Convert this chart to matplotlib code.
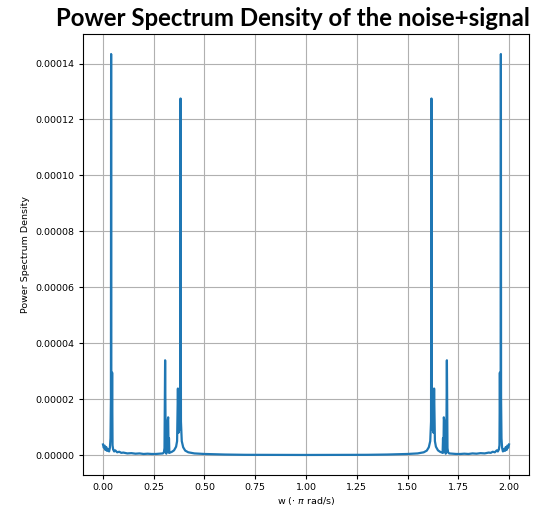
import matplotlib
matplotlib.use("Agg")
import matplotlib.pyplot as plt

# frequency (x pi rad/s) and PSD values, in units of 1e-6
w_left = [
    0.000, 0.004, 0.008, 0.012, 0.016, 0.020, 0.025, 0.030, 0.034, 0.037, 0.039,
    0.040, 0.041, 0.043, 0.045, 0.047, 0.050, 0.055, 0.060, 0.070, 0.080, 0.090,
    0.100, 0.120, 0.140, 0.160, 0.180, 0.200, 0.220, 0.240, 0.260, 0.280, 0.295,
    0.300, 0.303, 0.306, 0.309, 0.312, 0.316, 0.319, 0.321, 0.323, 0.325, 0.327,
    0.330, 0.340, 0.350, 0.360, 0.365, 0.369, 0.372, 0.375, 0.378, 0.380, 0.382,
    0.384, 0.388, 0.395, 0.405, 0.420, 0.450, 0.500, 0.600, 0.700, 0.800, 0.900,
    1.000,
]
psd_left = [
    3.8, 2.6, 3.4, 1.8, 2.9, 1.5, 2.2, 1.3, 2.6, 6.0, 20.0,
    143.4, 12.0, 6.0, 29.5, 3.5, 2.0, 1.3, 1.7, 1.0, 1.2, 0.8,
    0.9, 0.6, 0.7, 0.5, 0.6, 0.4, 0.5, 0.4, 0.4, 0.5, 0.6,
    1.0, 2.5, 33.9, 1.0, 0.5, 3.0, 12.5, 13.5, 1.0, 6.0, 0.8,
    0.9, 1.2, 1.7, 3.0, 5.0, 23.8, 8.0, 14.0, 9.0, 20.0, 127.5,
    12.0, 5.0, 2.8, 1.6, 1.0, 0.6, 0.4, 0.2, 0.1, 0.08, 0.06,
    0.05,
]
w_right = [
    1.100, 1.200, 1.300, 1.400, 1.500, 1.550, 1.580, 1.595, 1.605, 1.612, 1.616,
    1.618, 1.620, 1.622, 1.625, 1.628, 1.631, 1.635, 1.640, 1.650, 1.660, 1.670,
    1.673, 1.675, 1.677, 1.679, 1.681, 1.684, 1.688, 1.691, 1.694, 1.697, 1.700,
    1.705, 1.720, 1.740, 1.760, 1.780, 1.800, 1.820, 1.840, 1.860, 1.880, 1.900,
    1.910, 1.920, 1.930, 1.940, 1.945, 1.950, 1.953, 1.955, 1.957, 1.959, 1.960,
    1.961, 1.963, 1.966, 1.970, 1.975, 1.980, 1.984, 1.988, 1.992, 1.996, 2.000,
]
psd_right = [
    0.06, 0.08, 0.1, 0.2, 0.4, 0.6, 1.0, 1.6, 2.8, 5.0, 12.0,
    127.5, 20.0, 9.0, 14.0, 8.0, 23.8, 5.0, 3.0, 1.7, 1.2, 0.9,
    0.8, 6.0, 1.0, 13.5, 12.5, 3.0, 0.5, 1.0, 33.9, 2.5, 1.0,
    0.6, 0.5, 0.4, 0.4, 0.5, 0.4, 0.6, 0.5, 0.7, 0.6, 0.9,
    0.8, 1.2, 1.0, 1.7, 1.3, 2.0, 3.5, 29.5, 6.0, 12.0, 143.4,
    20.0, 6.0, 2.6, 1.3, 2.2, 1.5, 2.9, 1.8, 3.4, 2.6, 3.8,
]

w = w_left + w_right
psd = [v * 1e-6 for v in psd_left + psd_right]

fig = plt.figure(figsize=(5.55, 5.09), dpi=100)
ax = fig.add_axes([0.149, 0.0668, 0.8047, 0.8664])
ax.plot(w, psd, color="#1f77b4", linewidth=1.6)
ax.grid(True, color="#b0b0b0", linewidth=0.8)
ax.set_xticks([0.0, 0.25, 0.5, 0.75, 1.0, 1.25, 1.5, 1.75, 2.0])
ax.set_yticks([0.0, 0.00002, 0.00004, 0.00006, 0.00008, 0.0001, 0.00012, 0.00014])
ax.set_yticklabels([f"{v:.5f}" for v in ax.get_yticks()])
ax.set_xticklabels([f"{v:.2f}" for v in ax.get_xticks()])
ax.tick_params(labelsize=6.8, length=3, pad=3)
ax.set_xlabel(r"w ($\cdot\ \pi$ rad/s)", fontsize=6.8, labelpad=2)
ax.set_ylabel("Power Spectrum Density", fontsize=6.8, labelpad=4)

fig.text(0.527, 0.963, "Power Spectrum Density of the noise+signal",
         ha="center", va="center", fontsize=17.3, fontweight="bold",
         family="Lato")

fig.savefig("out.png", dpi=100)
